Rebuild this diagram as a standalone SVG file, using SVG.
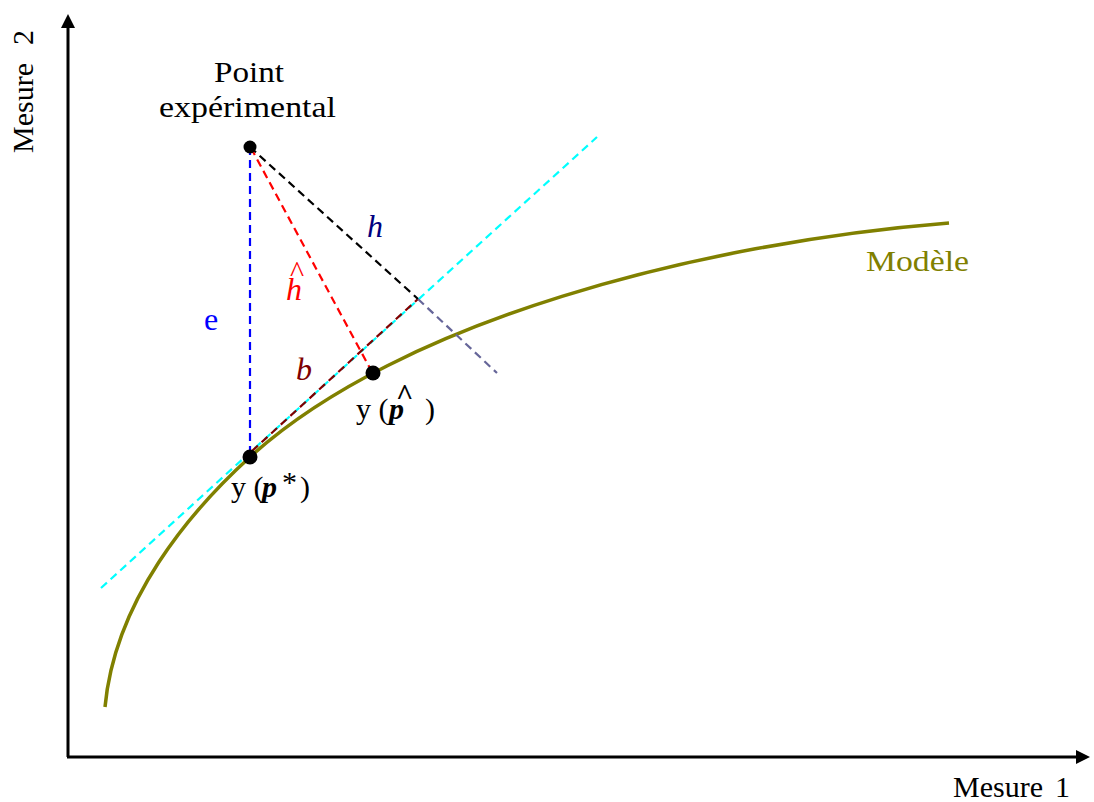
<svg xmlns="http://www.w3.org/2000/svg" width="1094" height="802" viewBox="0 0 1094 802">
<style>
text{font-family:"Liberation Serif","Times New Roman",serif;font-size:30px;fill:#000}
.it{font-style:italic}
.bi{font-style:italic;font-weight:bold}
.lb{font-size:32px}
.d{fill:none;stroke-width:2.2;stroke-dasharray:8 5}
.axis{stroke:#000;stroke-width:3;fill:none}
</style>
<defs>
<marker id="ah" markerWidth="14" markerHeight="14" refX="0" refY="7" orient="auto" markerUnits="userSpaceOnUse">
<path d="M0,0 L14,7 L0,14 Z" fill="#000"/>
</marker>
</defs>
<rect width="1094" height="802" fill="#fff"/>
<g id="axes">
<path class="axis" d="M68,757 L68,28" marker-end="url(#ah)"/>
<path class="axis" d="M67,757 L1076,757" marker-end="url(#ah)"/>
</g>
<g id="model">
<path fill="none" stroke="#808000" stroke-width="3.5" d="M105,707 C115,600 190,511.5 250,457 C400,320.6 699,243 949,223"/>
<text x="866" y="271" style="fill:#808000" textLength="103" lengthAdjust="spacingAndGlyphs">Modèle</text>
</g>
<g id="connectors">
<line class="d" stroke="#00ffff" x1="101" y1="588" x2="597" y2="137"/>
<line class="d" stroke="#800000" x1="252" y1="451" x2="418" y2="299"/>
<line class="d" stroke="#0000ff" x1="250" y1="147" x2="250" y2="457"/>
<line class="d" stroke="#000" x1="250" y1="147" x2="418" y2="299"/>
<line class="d" stroke="#666699" x1="418" y1="299" x2="497" y2="373"/>
<line class="d" stroke="#ff0000" x1="251" y1="148" x2="372" y2="372"/>
</g>
<g id="point-exp">
<circle cx="250" cy="147" r="6.5" fill="#000"/>
<text x="214" y="82" textLength="70" lengthAdjust="spacingAndGlyphs">Point</text>
<text x="159" y="117" textLength="177" lengthAdjust="spacingAndGlyphs">expérimental</text>
</g>
<g id="p-star">
<circle cx="250" cy="457" r="7.5" fill="#000"/>
<text x="231" y="497">y (</text>
<text x="262" y="497" class="bi">p</text>
<text x="282" y="492" font-size="32">*</text>
<text x="300" y="497">)</text>
</g>
<g id="p-hat">
<circle cx="373" cy="373" r="7.5" fill="#000"/>
<text x="356" y="419">y (</text>
<text x="389" y="419" class="bi">p</text>
<text x="396" y="405" font-size="24" font-weight="bold">^</text>
<text x="425" y="419">)</text>
</g>
<g id="labels">
<text x="204" y="330" class="lb" style="fill:#0000ff">e</text>
<text x="367" y="237" class="it lb" style="fill:#000080">h</text>
<text x="286" y="300" class="it lb" style="fill:#ff0000">h</text>
<text x="290" y="282" font-size="22" style="fill:#ff0000">^</text>
<text x="296" y="380" class="it lb" style="fill:#800000">b</text>
<text x="953" y="797">Mesure</text>
<text x="1055" y="797">1</text>
<g transform="translate(33,153) rotate(-90)">
<text x="0" y="0">Mesure</text>
<text x="108" y="0">2</text>
</g>
</g>
</svg>
